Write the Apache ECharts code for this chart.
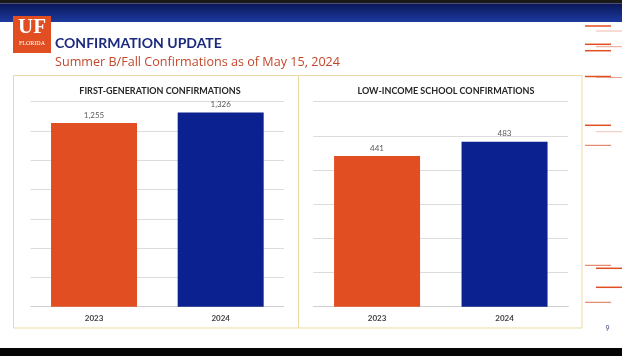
<!DOCTYPE html>
<html><head><meta charset="utf-8">
<script src="https://cdn.jsdelivr.net/npm/echarts@6/dist/echarts.min.js"></script>
<style>html,body{margin:0;padding:0;background:#fff}#c{width:622px;height:356px}</style>
</head><body><div id="c"></div>
<script>
const years = ['2023', '2024'];
const firstGenValues = [1255, 1326];
const lowIncomeValues = [441, 483];
const firstGenAxis = { min: 0, max: 1400, interval: 200 };
const lowIncomeAxis = { min: 0, max: 600, interval: 100 };
const barColors = ['#E04E22', '#0A218F'];
const chartTitles = ['FIRST-GENERATION CONFIRMATIONS', 'LOW-INCOME SCHOOL CONFIRMATIONS'];

const FONT = 'Lato, "Open Sans", sans-serif';
const chart = echarts.init(document.getElementById('c'), null, {renderer: 'canvas'});

function barData(vals) {
  return vals.map((v, i) => ({ value: v, itemStyle: { color: barColors[i] } }));
}
function yAxis(idx, ax) {
  return { type: 'value', gridIndex: idx, min: ax.min, max: ax.max, interval: ax.interval,
    axisLabel: { show: false }, axisLine: { show: false }, axisTick: { show: false },
    splitLine: { lineStyle: { color: '#DCDCDC', width: 1 } } };
}
function xAxis(idx) {
  return { type: 'category', gridIndex: idx, data: years,
    axisLine: { lineStyle: { color: '#D0D0D0' } }, axisTick: { show: false },
    axisLabel: { fontFamily: FONT, fontWeight: 'bold', fontSize: 8, color: '#404040', margin: 8 } };
}
const deco = [
  [26, 585, 611, '#E04E22', 1.5], [31, 596, 622, '#F2B8A8', 1],
  [44.3, 585, 611, '#E04E22', 1.5], [46.7, 596, 622, '#E9A08A', 1],
  [50.7, 585, 611, '#E04E22', 1.5], [76.5, 585, 611, '#E04E22', 1.5], [77.5, 596, 622, '#E9A08A', 1],
  [125.3, 585, 611, '#E04E22', 1.5], [131.7, 596, 622, '#F2C4B8', 1],
  [145.3, 585, 611, '#E07050', 1], [265.3, 585, 611, '#E07050', 1],
  [268.3, 596, 622, '#E04E22', 1.5], [287.3, 596, 622, '#E04E22', 1.5], [302.3, 585, 611, '#E07050', 1]
];
const graphics = [
  { type: 'rect', shape: { x: 0, y: 0, width: 622, height: 3.5 }, style: { fill: '#1a1a1a' }, z: -10 },
  { type: 'rect', shape: { x: 0, y: 3.5, width: 622, height: 18.5 },
    style: { fill: new echarts.graphic.LinearGradient(0, 0, 0, 1, [{offset: 0, color: '#0A1758'}, {offset: 1, color: '#1C3A9E'}]) }, z: -10 },
  { type: 'rect', shape: { x: 0, y: 348, width: 622, height: 8 }, style: { fill: '#050505' }, z: -10 },
  { type: 'rect', shape: { x: 13.5, y: 75.5, width: 568.5, height: 252.5 }, style: { fill: 'none', stroke: '#EBD9A5', lineWidth: 1 }, z: -5 },
  { type: 'line', shape: { x1: 298.5, y1: 75.5, x2: 298.5, y2: 328 }, style: { stroke: '#EBD9A5', lineWidth: 1 }, z: -5 },
  { type: 'rect', shape: { x: 13, y: 16, width: 38, height: 37 }, style: { fill: '#E04E22' }, z: 5 },
  { type: 'text', x: 32, y: 17, style: { text: 'UF', fill: '#fff', font: 'bold 21px "Liberation Serif", serif', align: 'center', verticalAlign: 'top' }, z: 6 },
  { type: 'text', x: 32, y: 40, style: { text: 'FLORIDA', fill: '#fff', font: '6px "Liberation Serif", serif', align: 'center', verticalAlign: 'top' }, z: 6 },
  { type: 'text', x: 55, y: 43.5, style: { text: 'CONFIRMATION UPDATE', fill: '#1B2A7E', font: 'bold 14px ' + FONT, verticalAlign: 'middle' } },
  { type: 'text', x: 55, y: 62.5, style: { text: 'Summer B/Fall Confirmations as of May 15, 2024', fill: '#C4482A', font: '12.6px "Open Sans", sans-serif', verticalAlign: 'middle' } },
  { type: 'text', x: 607.5, y: 329, style: { text: '9', fill: '#3A4A8A', font: '7px ' + FONT, align: 'center', verticalAlign: 'middle' } }
];
deco.forEach(d => graphics.push({ type: 'line', shape: { x1: d[1], y1: d[0], x2: d[2], y2: d[0] }, style: { stroke: d[3], lineWidth: d[4] } }));

chart.setOption({
  animation: false,
  textStyle: { fontFamily: FONT },
  title: [
    { text: chartTitles[0], left: 155, top: 82, textAlign: 'center',
      textStyle: { fontFamily: FONT, fontSize: 9, fontWeight: 'bold', color: '#262626' } },
    { text: chartTitles[1], left: 441, top: 82, textAlign: 'center',
      textStyle: { fontFamily: FONT, fontSize: 9, fontWeight: 'bold', color: '#262626' } }
  ],
  grid: [
    { left: 30.7, right: 338, top: 101.7, bottom: 49.3 },
    { left: 313.3, right: 53.7, top: 101.7, bottom: 49.3 }
  ],
  xAxis: [xAxis(0), xAxis(1)],
  yAxis: [yAxis(0, firstGenAxis), yAxis(1, lowIncomeAxis)],
  series: [
    { type: 'bar', xAxisIndex: 0, yAxisIndex: 0, data: barData(firstGenValues), barWidth: 86,
      label: { show: true, position: 'top', distance: 4, fontSize: 8, color: '#595959', fontFamily: FONT,
        formatter: p => p.value.toLocaleString('en-US') } },
    { type: 'bar', xAxisIndex: 1, yAxisIndex: 1, data: barData(lowIncomeValues), barWidth: 86,
      label: { show: true, position: 'top', distance: 4, fontSize: 8, color: '#595959', fontFamily: FONT,
        formatter: p => p.value.toLocaleString('en-US') } }
  ],
  graphic: graphics
});
</script></body></html>
